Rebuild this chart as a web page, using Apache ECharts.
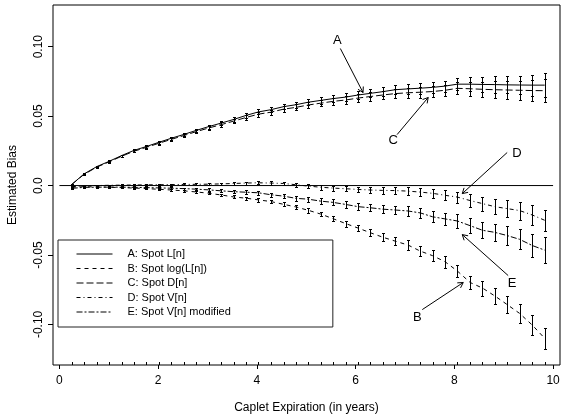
<!DOCTYPE html>
<html>
<head>
<meta charset="utf-8">
<script src="https://cdn.jsdelivr.net/npm/echarts@6/dist/echarts.min.js"></script>
<style>
  html, body { margin: 0; padding: 0; background: #fff; }
  #chart { width: 566px; height: 420px; }
</style>
</head>
<body>
<div id="chart"></div>
<script>
// Caplet expirations (years)
const expiry = [0.25, 0.50, 0.76, 1.01, 1.26, 1.51, 1.76, 2.02, 2.27, 2.52,
                2.77, 3.02, 3.28, 3.53, 3.78, 4.03, 4.28, 4.54, 4.79, 5.04,
                5.29, 5.54, 5.80, 6.05, 6.30, 6.55, 6.80, 7.06, 7.31, 7.56,
                7.81, 8.06, 8.32, 8.57, 8.82, 9.07, 9.32, 9.58, 9.83];

// Estimated bias per method
const biasA = [0.0008, 0.0084, 0.0137, 0.0175, 0.0216, 0.0253, 0.0281, 0.0312, 0.0341, 0.0368,
               0.0397, 0.0424, 0.0450, 0.0476, 0.0505, 0.0530, 0.0546, 0.0568, 0.0582, 0.0600,
               0.0613, 0.0626, 0.0637, 0.0652, 0.0664, 0.0676, 0.0690, 0.0696, 0.0701, 0.0707,
               0.0716, 0.0730, 0.0730, 0.0728, 0.0727, 0.0725, 0.0724, 0.0723, 0.0723];
const biasB = [-0.0012, -0.0008, -0.0010, -0.0012, -0.0015, -0.0018, -0.0022, -0.0027, -0.0032, -0.0038,
               -0.0046, -0.0055, -0.0068, -0.0082, -0.0091, -0.0103, -0.0115, -0.0135, -0.0154, -0.0178,
               -0.0205, -0.0238, -0.0274, -0.0306, -0.0340, -0.0372, -0.0400, -0.0428, -0.0472, -0.0505,
               -0.0548, -0.0615, -0.0698, -0.0738, -0.0795, -0.0857, -0.0920, -0.1005, -0.1100];
const biasC = [0.0008, 0.0081, 0.0133, 0.0171, 0.0211, 0.0247, 0.0275, 0.0305, 0.0333, 0.0360,
               0.0388, 0.0414, 0.0439, 0.0464, 0.0490, 0.0514, 0.0528, 0.0550, 0.0563, 0.0580,
               0.0593, 0.0606, 0.0616, 0.0630, 0.0641, 0.0652, 0.0662, 0.0668, 0.0672, 0.0677,
               0.0686, 0.0700, 0.0697, 0.0693, 0.0690, 0.0688, 0.0686, 0.0684, 0.0683];
const biasD = [-0.0008, -0.0003, 0.0000, 0.0002, 0.0003, 0.0004, 0.0005, 0.0006, 0.0007, 0.0008,
               0.0009, 0.0010, 0.0012, 0.0015, 0.0018, 0.0020, 0.0018, 0.0015, 0.0006, -0.0004,
               -0.0012, -0.0018, -0.0023, -0.0028, -0.0032, -0.0035, -0.0036, -0.0040, -0.0047, -0.0056,
               -0.0070, -0.0083, -0.0108, -0.0130, -0.0152, -0.0166, -0.0180, -0.0212, -0.0250];
const biasE = [-0.0020, -0.0013, -0.0012, -0.0011, -0.0012, -0.0013, -0.0015, -0.0017, -0.0019, -0.0022,
               -0.0026, -0.0031, -0.0038, -0.0044, -0.0048, -0.0052, -0.0066, -0.0076, -0.0092, -0.0098,
               -0.0112, -0.0121, -0.0136, -0.0152, -0.0160, -0.0170, -0.0176, -0.0183, -0.0197, -0.0225,
               -0.0240, -0.0255, -0.0289, -0.0322, -0.0337, -0.0360, -0.0387, -0.0432, -0.0465];

// Half-widths of the error bars
const errA = [0.0003, 0.0004, 0.0005, 0.0006, 0.0007, 0.0008, 0.0009, 0.0010, 0.0011, 0.0012,
              0.0013, 0.0014, 0.0015, 0.0016, 0.0017, 0.0018, 0.0019, 0.0020, 0.0021, 0.0022,
              0.0023, 0.0025, 0.0026, 0.0028, 0.0029, 0.0031, 0.0034, 0.0037, 0.0039, 0.0040,
              0.0040, 0.0043, 0.0050, 0.0056, 0.0060, 0.0062, 0.0068, 0.0075, 0.0085];
const errB = [0.0003, 0.0003, 0.0004, 0.0004, 0.0005, 0.0005, 0.0006, 0.0006, 0.0007, 0.0008,
              0.0008, 0.0009, 0.0010, 0.0011, 0.0012, 0.0013, 0.0013, 0.0014, 0.0015, 0.0016,
              0.0017, 0.0019, 0.0021, 0.0023, 0.0025, 0.0027, 0.0030, 0.0033, 0.0036, 0.0039,
              0.0042, 0.0046, 0.0050, 0.0054, 0.0058, 0.0062, 0.0066, 0.0072, 0.0078];
const errC = [0.0003, 0.0004, 0.0005, 0.0006, 0.0007, 0.0008, 0.0009, 0.0010, 0.0011, 0.0012,
              0.0013, 0.0014, 0.0015, 0.0016, 0.0017, 0.0018, 0.0019, 0.0020, 0.0021, 0.0022,
              0.0023, 0.0025, 0.0026, 0.0028, 0.0029, 0.0031, 0.0034, 0.0037, 0.0039, 0.0040,
              0.0040, 0.0043, 0.0050, 0.0056, 0.0060, 0.0062, 0.0068, 0.0075, 0.0085];
const errD = [0.0003, 0.0003, 0.0004, 0.0004, 0.0005, 0.0005, 0.0006, 0.0006, 0.0007, 0.0007,
              0.0008, 0.0008, 0.0009, 0.0010, 0.0011, 0.0012, 0.0013, 0.0014, 0.0015, 0.0016,
              0.0017, 0.0018, 0.0019, 0.0020, 0.0022, 0.0024, 0.0026, 0.0028, 0.0030, 0.0033,
              0.0036, 0.0039, 0.0045, 0.0050, 0.0056, 0.0060, 0.0065, 0.0070, 0.0077];
const errE = [0.0003, 0.0003, 0.0004, 0.0004, 0.0005, 0.0005, 0.0006, 0.0007, 0.0007, 0.0008,
              0.0009, 0.0010, 0.0011, 0.0012, 0.0013, 0.0014, 0.0015, 0.0016, 0.0017, 0.0018,
              0.0019, 0.0021, 0.0022, 0.0024, 0.0026, 0.0028, 0.0030, 0.0033, 0.0036, 0.0040,
              0.0045, 0.0048, 0.0053, 0.0058, 0.0062, 0.0066, 0.0072, 0.0080, 0.0095];

const seriesNames = ['A: Spot L[n]', 'B: Spot log(L[n])', 'C: Spot D[n]', 'D: Spot V[n]', 'E: Spot V[n] modified'];

// Zero reference line
const zeroLineX = [0, 10];
const zeroLineY = [0, 0];

// Axis ticks
const xTicks = [0, 2, 4, 6, 8, 10];
const yTicks = [-0.10, -0.05, 0, 0.05, 0.10];
const yTickLabels = ['-0.10', '-0.05', '0.0', '0.05', '0.10'];

// Callout letters: label anchor, arrow tail, arrow tip (data units)
const calloutText  = ['A', 'C', 'D', 'E', 'B'];
const calloutLabelX = [5.63, 6.76, 9.27, 9.17, 7.25];
const calloutLabelY = [0.1046, 0.0324, 0.0230, -0.0706, -0.0950];
const calloutTailX = [5.69, 6.84, 9.07, 9.09, 7.35];
const calloutTailY = [0.0987, 0.0367, 0.0238, -0.0648, -0.0893];
const calloutTipX = [6.15, 7.47, 8.16, 8.16, 8.18];
const calloutTipY = [0.0670, 0.0634, -0.0058, -0.0353, -0.0698];

const FONT = '"Liberation Sans", Arial, Helvetica, sans-serif';
const INK = '#000';

const biasSets = [biasA, biasB, biasC, biasD, biasE];
const errSets = [errA, errB, errC, errD, errE];
const dashStyles = ['solid', [4, 4], [7, 3], [4, 3, 1, 3], [6, 2, 2, 2]];

function errorBarItem(params, api) {
  const x = api.value(0), y = api.value(1), e = api.value(2);
  const top = api.coord([x, y + e]);
  const bot = api.coord([x, y - e]);
  const cx = Math.round(top[0]) + 0.5;
  const ty = Math.round(top[1]) + 0.5, by = Math.round(bot[1]) + 0.5;
  const w = 1.5;
  const st = { stroke: INK, lineWidth: 1 };
  return {
    type: 'group',
    children: [
      { type: 'line', shape: { x1: cx, y1: ty, x2: cx, y2: by }, style: st },
      { type: 'line', shape: { x1: cx - w, y1: ty, x2: cx + w, y2: ty }, style: st },
      { type: 'line', shape: { x1: cx - w, y1: by, x2: cx + w, y2: by }, style: st }
    ]
  };
}

function rugItem(params, api) {
  const p = api.coord([api.value(0), api.value(1)]);
  const cx = Math.round(p[0]) + 0.5;
  return { type: 'line', shape: { x1: cx, y1: p[1], x2: cx, y2: p[1] - 3 }, style: { stroke: INK, lineWidth: 1 } };
}

function calloutItem(params, api) {
  const i = params.dataIndex;
  const lab = api.coord([calloutLabelX[i], calloutLabelY[i]]);
  const tail = api.coord([calloutTailX[i], calloutTailY[i]]);
  const tip = api.coord([calloutTipX[i], calloutTipY[i]]);
  const ang = Math.atan2(tip[1] - tail[1], tip[0] - tail[0]);
  const L = 6, sp = Math.PI / 6;
  const h1 = [tip[0] - L * Math.cos(ang - sp), tip[1] - L * Math.sin(ang - sp)];
  const h2 = [tip[0] - L * Math.cos(ang + sp), tip[1] - L * Math.sin(ang + sp)];
  const st = { stroke: INK, lineWidth: 1, fill: null };
  return {
    type: 'group',
    children: [
      { type: 'line', shape: { x1: tail[0], y1: tail[1], x2: tip[0], y2: tip[1] }, style: st },
      { type: 'polyline', shape: { points: [h1, tip, h2] }, style: st },
      { type: 'text', x: lab[0], y: lab[1],
        style: { text: calloutText[i], fill: INK, font: '13px ' + FONT, align: 'center', verticalAlign: 'middle' } }
    ]
  };
}

// value range of the plot box (zero sits on a pixel centre)
const yMin = -0.1292, yMax = 0.1300;

const series = [];
// zero reference line
series.push({
  type: 'line', name: 'zero', data: zeroLineX.map((x, i) => [x, zeroLineY[i]]),
  symbol: 'none', lineStyle: { color: INK, width: 1 }, silent: true, z: 2
});
// curves
biasSets.forEach((vals, s) => {
  series.push({
    type: 'line', name: seriesNames[s],
    data: expiry.map((x, i) => [x, vals[i]]),
    symbol: 'none', color: INK,
    lineStyle: { color: INK, width: 1, type: dashStyles[s] },
    silent: true, z: 3
  });
});
// error bars
biasSets.forEach((vals, s) => {
  series.push({
    type: 'custom', name: 'err' + s,
    data: expiry.map((x, i) => [x, vals[i], errSets[s][i]]),
    encode: { x: 0, y: 1 },
    renderItem: errorBarItem, silent: true, z: 4
  });
});
// rug ticks at each expiry
series.push({
  type: 'custom', name: 'rug',
  data: expiry.map(x => [x, yMin]),
  encode: { x: 0, y: 1 },
  renderItem: rugItem, silent: true, z: 5
});
// callouts
series.push({
  type: 'custom', name: 'callouts',
  data: calloutText.map((t, i) => [calloutTipX[i], calloutTipY[i]]),
  encode: { x: 0, y: 1 },
  renderItem: calloutItem, silent: true, z: 6
});

const chart = echarts.init(document.getElementById('chart'), null, { renderer: 'canvas' });
chart.setOption({
  animation: false,
  backgroundColor: '#fff',
  textStyle: { fontFamily: FONT, color: INK },
  grid: {
    left: 53, top: 5, width: 507, height: 360,
    show: true, borderColor: INK, borderWidth: 1, backgroundColor: 'transparent',
    outerBoundsMode: 'none', containLabel: false
  },
  legend: {
    data: seriesNames,
    orient: 'vertical',
    left: 58, top: 240,
    padding: [8, 102, 9, 18],
    itemWidth: 36, itemHeight: 12, itemGap: 2.5,
    selectedMode: false,
    backgroundColor: '#fff',
    borderColor: '#222', borderWidth: 1, borderRadius: 0,
    itemStyle: { opacity: 0 },
    lineStyle: { opacity: 1, width: 1 },
    textStyle: { fontFamily: FONT, fontSize: 11, color: INK, lineHeight: 12, padding: [0, 0, 0, 10] }
  },
  xAxis: {
    type: 'value', min: -0.13, max: 10.14,
    name: 'Caplet Expiration (in years)', nameLocation: 'middle', nameGap: 37,
    nameTextStyle: { fontFamily: FONT, fontSize: 12, color: INK },
    axisLine: { show: false, onZero: false },
    axisTick: { show: true, inside: false, length: 4, customValues: xTicks, lineStyle: { color: INK, width: 1 } },
    axisLabel: { customValues: xTicks, formatter: v => String(v), fontFamily: FONT, fontSize: 12, color: INK, margin: 10 },
    splitLine: { show: false }
  },
  yAxis: {
    type: 'value', min: yMin, max: yMax,
    name: 'Estimated Bias', nameLocation: 'middle', nameRotate: 90, nameGap: 34,
    nameTextStyle: { fontFamily: FONT, fontSize: 12, color: INK },
    axisLine: { show: false, onZero: false },
    axisTick: { show: true, inside: false, length: 5, customValues: yTicks, lineStyle: { color: INK, width: 1 } },
    axisLabel: {
      customValues: yTicks, rotate: 90, margin: 8,
      formatter: v => { const i = yTicks.findIndex(t => Math.abs(t - v) < 1e-9); return i >= 0 ? yTickLabels[i] : ''; },
      fontFamily: FONT, fontSize: 12, color: INK
    },
    splitLine: { show: false }
  },
  series: series
});
</script>
</body>
</html>
